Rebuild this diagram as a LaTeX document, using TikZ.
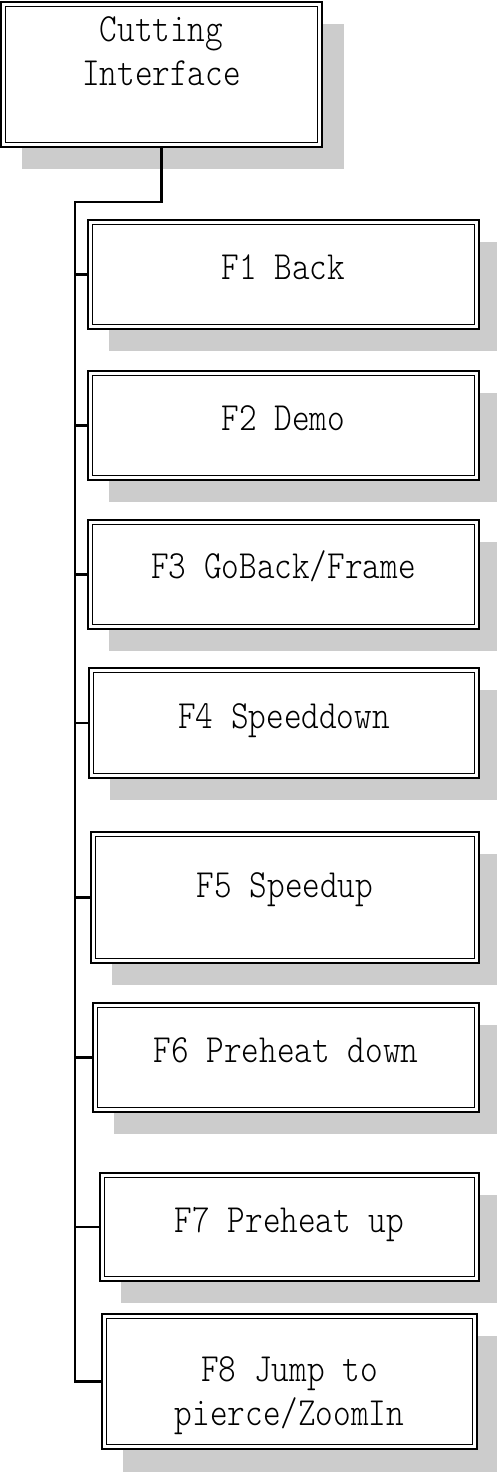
\documentclass[tikz,border=0pt]{standalone}
\usepackage{fontspec}
\newfontfamily\lbfont[FakeStretch=0.84]{lmmonolt10-regular.otf}
\usetikzlibrary{backgrounds}
\definecolor{shade}{HTML}{CCCCCC}
\tikzset{
  box/.style={draw, line width=1.8pt, double=white, double distance=2.7pt, fill=white, inner sep=0pt, outer sep=0pt},
  lbl/.style={font=\fontsize{40}{44}\selectfont\lbfont, inner sep=0pt, anchor=base, align=center},
  conn/.style={line width=2.3pt},
  shadowbox/.style={fill=shade}
}
\begin{document}
\begin{tikzpicture}[x=1pt,y=-1pt]
\useasboundingbox (0,0) rectangle (497,1472);
\clip (0,0) rectangle (497,1472);
% boxes
\node[box, minimum width=316.5pt, minimum height=140.5pt] (top) at (161.5,74.5) {};
\node[box, minimum width=386.5pt, minimum height=104.5pt] (f1) at (283.5,274.5) {};
\node[box, minimum width=386.5pt, minimum height=104.5pt] (f2) at (283.5,425.5) {};
\node[box, minimum width=386.5pt, minimum height=104.5pt] (f3) at (283.5,574.5) {};
\node[box, minimum width=385.5pt, minimum height=105.5pt] (f4) at (284,723) {};
\node[box, minimum width=383.5pt, minimum height=126.5pt] (f5) at (285,897.5) {};
\node[box, minimum width=381.5pt, minimum height=104.5pt] (f6) at (286,1057.5) {};
\node[box, minimum width=374.5pt, minimum height=103.5pt] (f7) at (289.5,1227) {};
\node[box, minimum width=370.5pt, minimum height=130.5pt] (f8) at (289.5,1381.5) {};
\coordinate (j) at (75,202);
\begin{scope}[on background layer]
  \fill[shadowbox] (22,24) rectangle (344,169);
  \fill[shadowbox] (109,242) rectangle (500,351);
  \fill[shadowbox] (109,393) rectangle (500,502);
  \fill[shadowbox] (109,542) rectangle (500,651);
  \fill[shadowbox] (110,690) rectangle (500,800);
  \fill[shadowbox] (112,854) rectangle (500,985);
  \fill[shadowbox] (114,1025) rectangle (500,1134);
  \fill[shadowbox] (121,1195) rectangle (500,1303);
  \fill[shadowbox] (123,1336) rectangle (500,1472);
  \draw[conn] (top.south) |- (j) |- (f8.west);
  \foreach \n in {f1,f2,f3,f4,f5,f6,f7}
    \draw[conn] (j |- \n.west) -- (\n.west);
\end{scope}
% texts (multi-line: anchor base is the last line)
\node[lbl] (ttop) at (161.5,85) {Cutting\\Interface};
\node[lbl] (t1) at (283.5,279) {F1 Back};
\node[lbl] (t2) at (283.5,430) {F2 Demo};
\node[lbl] (t3) at (283.5,578) {F3 GoBack/Frame};
\node[lbl] (t4) at (284,728) {F4 Speeddown};
\node[lbl] (t5) at (285,897) {F5 Speedup};
\node[lbl] (t6) at (286,1062) {F6 Preheat down};
\node[lbl] (t7) at (289.5,1232) {F7 Preheat up};
\node[lbl] (t8) at (289.5,1425) {F8 Jump to\\pierce/ZoomIn};
\end{tikzpicture}
\end{document}
